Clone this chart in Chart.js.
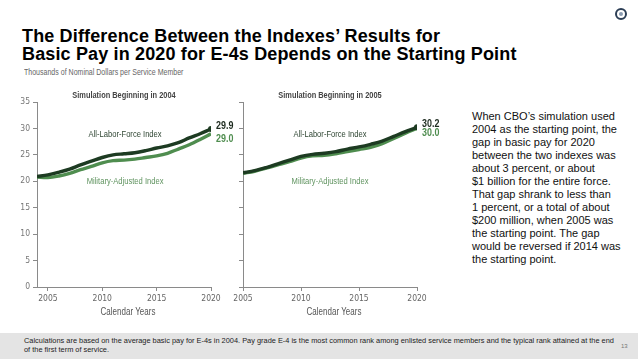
<!DOCTYPE html>
<html>
<head>
<meta charset="utf-8">
<script src="https://cdn.jsdelivr.net/npm/chart.js"></script>
<style>
  html, body { margin: 0; padding: 0; background: #fff; }
  body { width: 638px; height: 359px; position: relative; overflow: hidden; font-family: "Liberation Sans", Arial, sans-serif; }
  .title { position: absolute; left: 22px; top: 27px; font-weight: bold; font-size: 18px; line-height: 18px; color: #000; white-space: nowrap; letter-spacing: 0.15px; }
  .subtitle { position: absolute; left: 24px; top: 66px; font-size: 9.5px; color: #666; white-space: nowrap; transform: scaleX(0.74); transform-origin: left top; }
  .note { position: absolute; left: 472px; top: 110px; font-size: 11px; line-height: 13px; color: #111; white-space: nowrap; }
  .footer { position: absolute; left: 0; top: 333px; width: 638px; height: 26px; background: #e4e4e4; }
  .footer p { position: absolute; left: 24px; top: 4px; margin: 0; font-size: 7.4px; line-height: 8.5px; color: #222; white-space: nowrap; }
  .page { position: absolute; left: 621px; top: 343px; font-size: 6px; color: #777; }
  .logo { position: absolute; left: 615px; top: 8px; width: 8px; height: 8px; border: 2.5px solid #2c3e55; border-radius: 50%; }
  .logo::after { content: ""; position: absolute; left: 2px; top: 2px; width: 4px; height: 4px; border-radius: 50%; background: #8a9bb0; }
  canvas { position: absolute; }
</style>
</head>
<body>
<div class="logo"></div>
<div class="title">The Difference Between the Indexes’ Results for<br>Basic Pay in 2020 for E-4s Depends on the Starting Point</div>
<div class="subtitle">Thousands of Nominal Dollars per Service Member</div>
<div class="note">When CBO’s simulation used<br>2004 as the starting point, the<br>gap in basic pay for 2020<br>between the two indexes was<br>about 3 percent, or about<br>$1 billion for the entire force.<br>That gap shrank to less than<br>1 percent, or a total of about<br>$200 million, when 2005 was<br>the starting point. The gap<br>would be reversed if 2014 was<br>the starting point.</div>
<canvas id="chart2004" width="240" height="230" style="left:0px;top:90px;width:240px;height:230px"></canvas>
<canvas id="chart2005" width="240" height="230" style="left:206px;top:90px;width:240px;height:230px"></canvas>
<div class="footer"><p>Calculations are based on the average basic pay for E-4s in 2004. Pay grade E-4 is the most common rank among enlisted service members and the typical rank attained at the end<br>of the first term of service.</p></div>
<div class="page">13</div>

<script>
// Simulation beginning in 2004
const years2004 = [2004, 2005, 2006, 2007, 2008, 2009, 2010, 2011, 2012, 2013, 2014, 2015, 2016, 2017, 2018, 2019, 2020];
const allLabor2004 = [20.9, 21.2, 21.7, 22.3, 23.1, 23.8, 24.5, 25.0, 25.2, 25.4, 25.8, 26.3, 26.7, 27.3, 28.2, 29.0, 29.9];
const military2004 = [20.8, 20.7, 21.0, 21.5, 22.2, 22.8, 23.5, 23.9, 24.0, 24.2, 24.5, 24.8, 25.3, 26.1, 26.9, 27.9, 29.0];

// Simulation beginning in 2005
const years2005 = [2005, 2006, 2007, 2008, 2009, 2010, 2011, 2012, 2013, 2014, 2015, 2016, 2017, 2018, 2019, 2020];
const allLabor2005 = [21.6, 22.0, 22.6, 23.3, 24.0, 24.7, 25.1, 25.3, 25.6, 26.1, 26.5, 27.0, 27.6, 28.5, 29.4, 30.2];
const military2005 = [21.5, 21.9, 22.5, 23.1, 23.7, 24.4, 24.8, 24.9, 25.2, 25.6, 26.0, 26.4, 27.1, 28.1, 29.1, 30.0];

const yTicks = [0, 5, 10, 15, 20, 25, 30, 35];
const xTicks = [2005, 2010, 2015, 2020];

const darkGreen = '#1d3b22';
const midGreen = '#4f8d4f';
const axisGray = '#8a8a8a';
const sans = '"Liberation Sans", Arial, sans-serif';

// the original uses a condensed face, so squeeze text horizontally
function narrowText(ctx, text, x, y, sx) {
    ctx.save();
    ctx.translate(x, y);
    ctx.scale(sx, 1);
    ctx.fillText(text, 0, 0);
    ctx.restore();
}

// panel title, in-chart series names, end values and x axis title
const panelLabels = {
    id: 'panelLabels',
    afterDatasetsDraw(chart, args, opts) {
        const { ctx, chartArea, scales } = chart;
        const x = scales.x, y = scales.y;
        const mid = (chartArea.left + chartArea.right) / 2;
        ctx.save();
        ctx.textAlign = 'center';
        ctx.textBaseline = 'middle';
        ctx.font = 'bold 9.5px ' + sans;
        ctx.fillStyle = '#444';
        narrowText(ctx, opts.title, mid, chartArea.top - 7, 0.78);

        ctx.font = '10px ' + sans;
        ctx.fillStyle = '#555';
        narrowText(ctx, 'Calendar Years', mid + 4, chartArea.bottom + 25, 0.8);

        ctx.font = '9.5px ' + sans;
        ctx.fillStyle = '#2e4532';
        narrowText(ctx, 'All-Labor-Force Index', x.getPixelForValue(opts.nameYear), y.getPixelForValue(opts.upperY), 0.8);
        ctx.fillStyle = '#5f935f';
        narrowText(ctx, 'Military-Adjusted Index', x.getPixelForValue(opts.nameYear), y.getPixelForValue(opts.lowerY), 0.8);

        ctx.textAlign = 'left';
        ctx.font = 'bold 10.5px ' + sans;
        chart.data.datasets.forEach((ds, i) => {
            const pts = chart.getDatasetMeta(i).data;
            const last = pts[pts.length - 1];
            const val = ds.data[ds.data.length - 1].y;
            ctx.fillStyle = i === 0 ? '#1c2a1e' : '#4f8d4f';
            narrowText(ctx, val.toFixed(1), last.x + 5, last.y + (i === 0 ? -3 : 5), 0.85);
        });
        ctx.restore();
    }
};

function makeChart(id, years, upper, lower, opts) {
    const ctx = document.getElementById(id).getContext('2d');
    const toPoints = vals => years.map((yr, i) => ({ x: yr, y: vals[i] }));
    return new Chart(ctx, {
        type: 'line',
        data: {
            datasets: [
                {
                    label: 'All-Labor-Force Index',
                    data: toPoints(upper),
                    borderColor: darkGreen,
                    borderWidth: 3.4,
                    tension: 0.35,
                    pointRadius: years.map((y, i) => i === years.length - 1 ? 3 : 0),
                    pointBackgroundColor: darkGreen,
                    pointBorderWidth: 0
                },
                {
                    label: 'Military-Adjusted Index',
                    data: toPoints(lower),
                    borderColor: midGreen,
                    borderWidth: 3.4,
                    tension: 0.35,
                    pointRadius: 0
                }
            ]
        },
        options: {
            responsive: false,
            animation: false,
            events: [],
            layout: { padding: { top: 12, right: 29, left: 0, bottom: 0 } },
            plugins: {
                legend: { display: false },
                tooltip: { enabled: false },
                panelLabels: opts
            },
            scales: {
                x: {
                    type: 'linear',
                    min: years[0],
                    max: 2020,
                    afterBuildTicks: s => { s.ticks = xTicks.map(v => ({ value: v })); },
                    afterFit: s => { s.height = 33; },
                    border: { color: axisGray, width: 1 },
                    grid: { drawOnChartArea: false, color: axisGray, tickLength: 4 },
                    ticks: {
                        color: '#666',
                        padding: 3,
                        maxRotation: 0,
                        font: { family: '"DejaVu Sans Condensed", sans-serif', size: 8.5 },
                        callback: v => String(v)
                    }
                },
                y: {
                    min: 0,
                    max: 35,
                    afterBuildTicks: s => { s.ticks = yTicks.map(v => ({ value: v })); },
                    afterFit: s => { s.width = 37; },
                    border: { color: axisGray, width: 1 },
                    grid: { drawOnChartArea: false, color: axisGray, tickLength: 4 },
                    ticks: {
                        color: '#777',
                        padding: 3,
                        font: { family: '"DejaVu Sans Condensed", sans-serif', size: 8.5 },
                        callback: v => opts.showYLabels ? String(v) : ''
                    }
                }
            }
        },
        plugins: [panelLabels]
    });
}

makeChart('chart2004', years2004, allLabor2004, military2004, {
    title: 'Simulation Beginning in 2004', showYLabels: true,
    nameYear: 2012.1, upperY: 28.9, lowerY: 19.9
});
makeChart('chart2005', years2005, allLabor2005, military2005, {
    title: 'Simulation Beginning in 2005', showYLabels: false,
    nameYear: 2012.5, upperY: 28.9, lowerY: 19.9
});
</script>
</body>
</html>
